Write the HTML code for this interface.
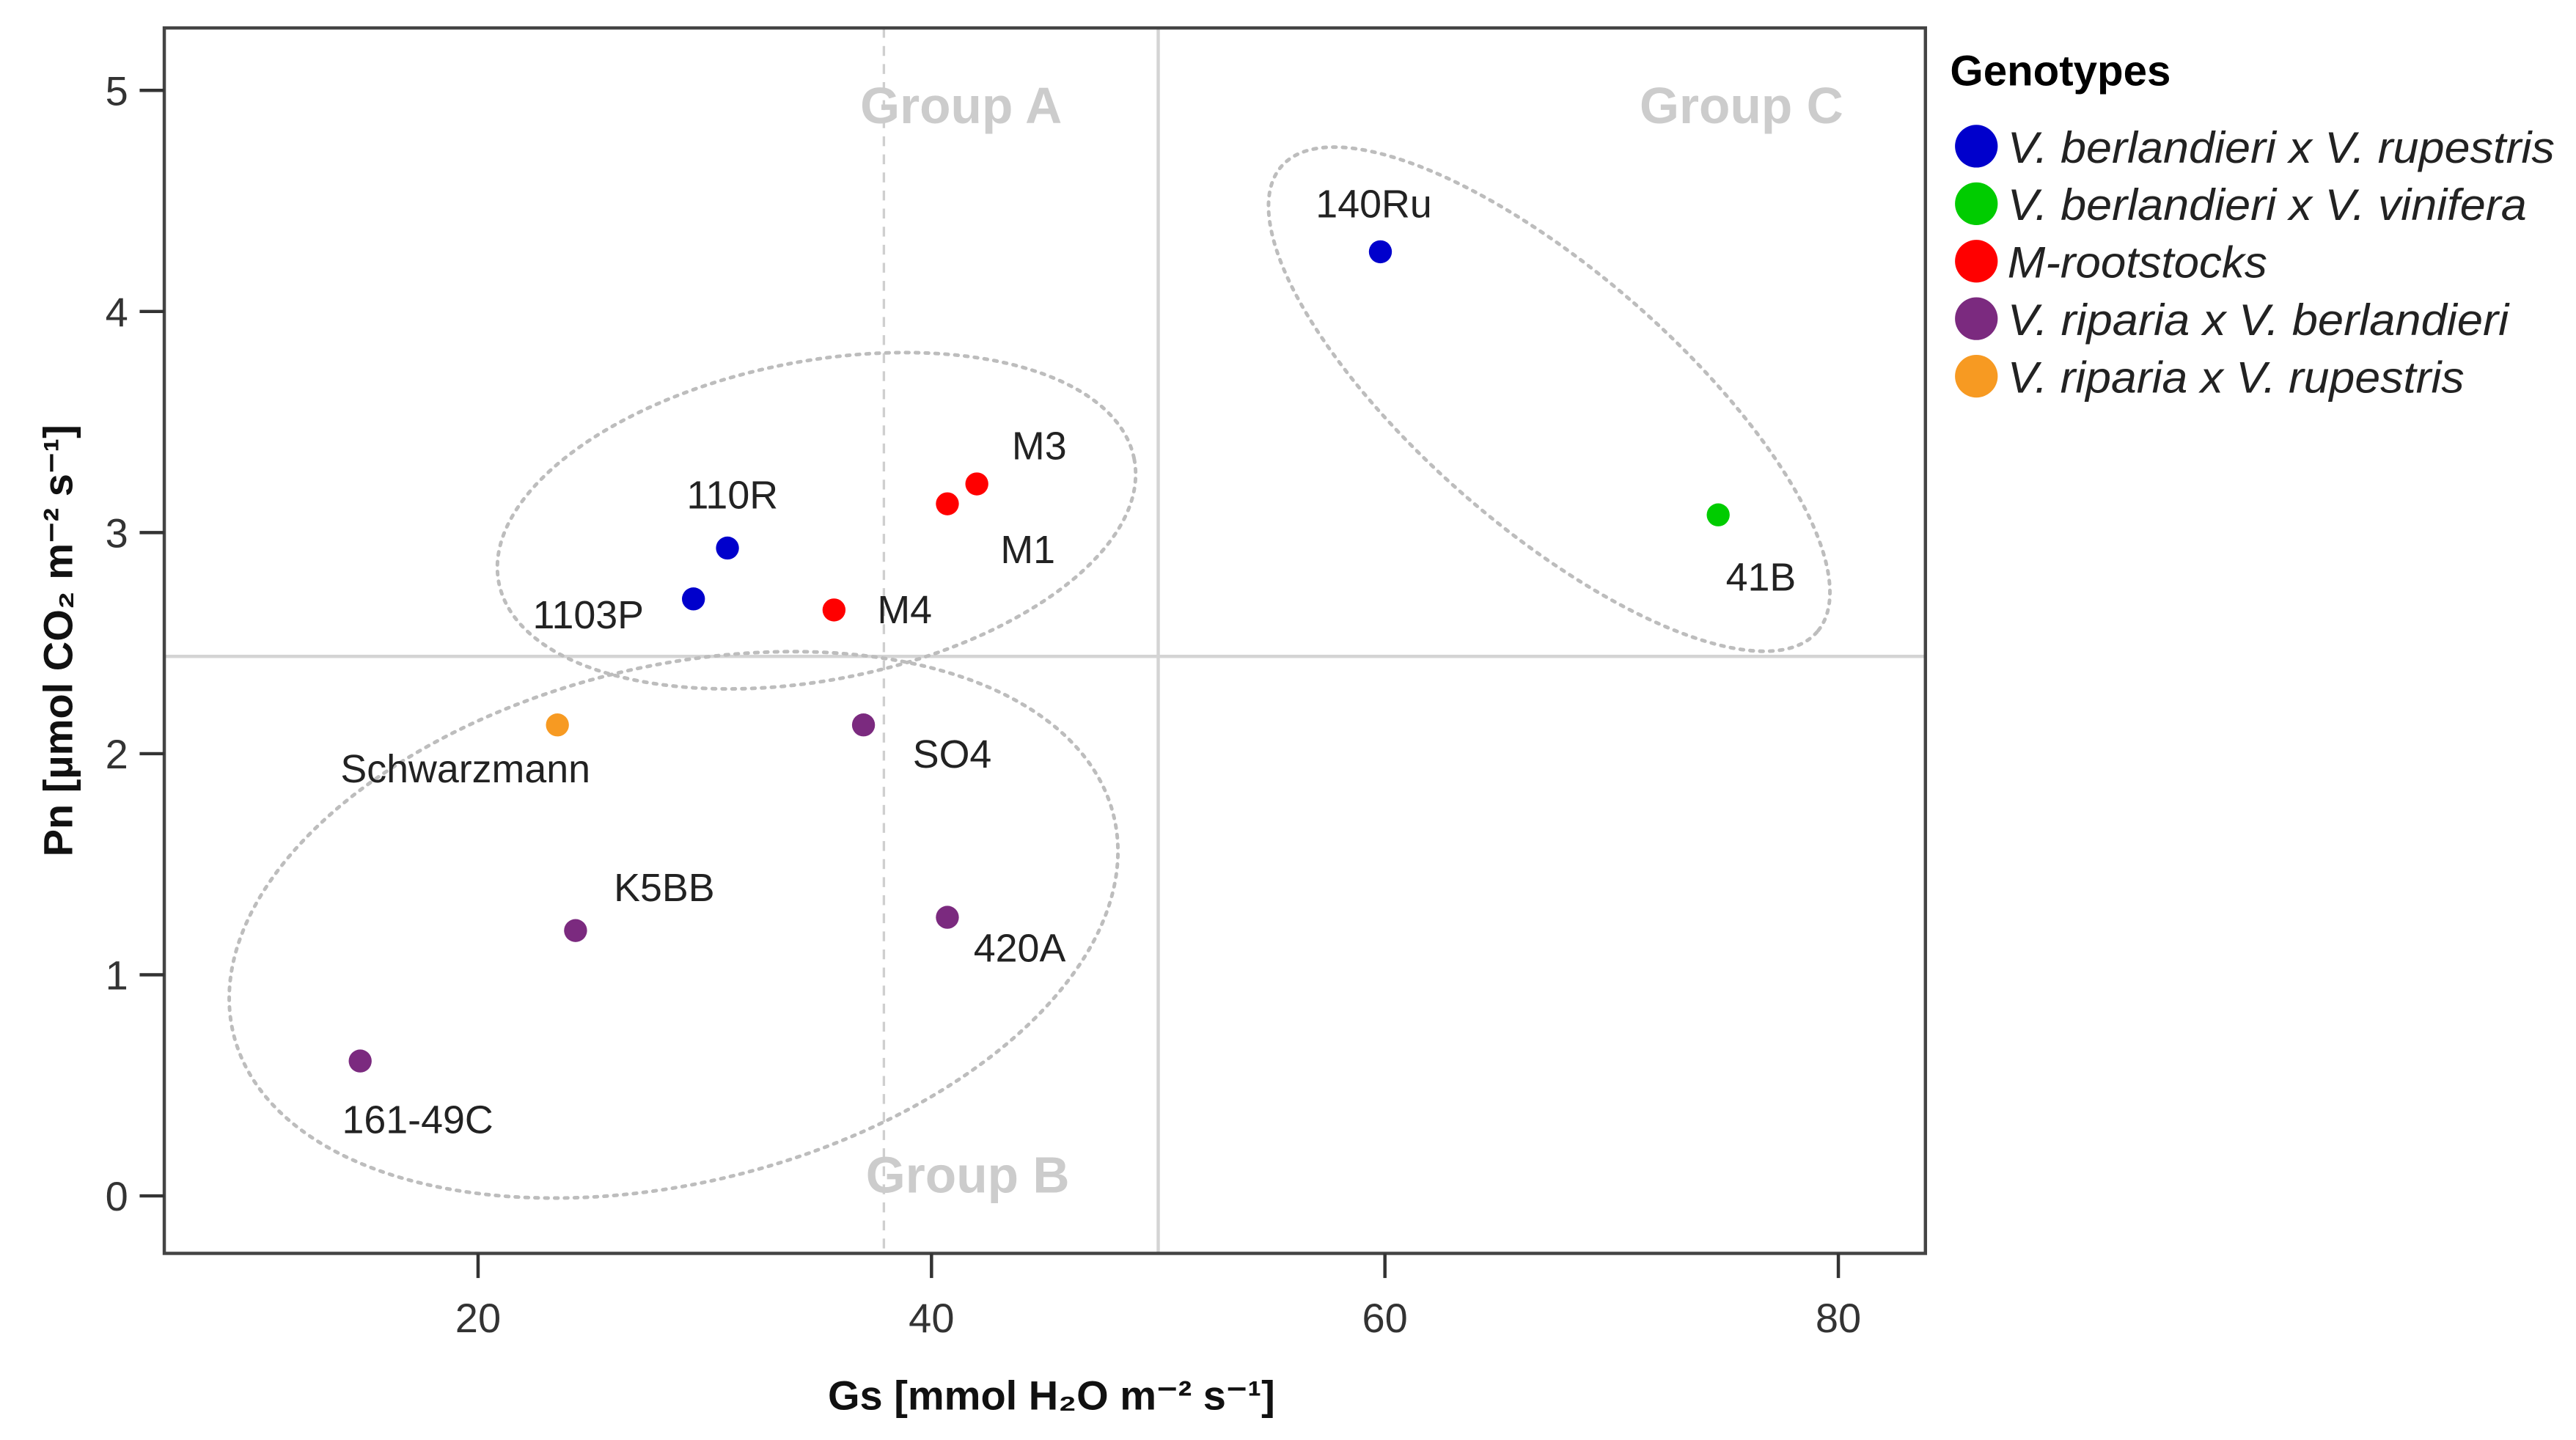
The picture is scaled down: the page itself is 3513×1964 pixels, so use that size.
<!DOCTYPE html>
<html><head><meta charset="utf-8"><style>
html,body{margin:0;padding:0;background:#fff}
svg{display:block}
text{font-family:"Liberation Sans",Arial,sans-serif}
</style></head><body>
<svg id="chart" width="3513" height="1964" viewBox="0 0 1568 876.6" xmlns="http://www.w3.org/2000/svg">
<rect width="1568" height="876.6" fill="#fff"/>
<g id="bg"></g>
<g id="marks"></g>
</svg>
<script>
const names = ["140Ru","41B","110R","1103P","M4","M1","M3","Schwarzmann","SO4","K5BB","420A","161-49C"];
const gsValues = [59.8,74.7,31.0,29.5,35.7,40.7,42.0,23.5,37.0,24.3,40.7,14.8];
const pnValues = [4.27,3.08,2.93,2.70,2.65,3.13,3.22,2.13,2.13,1.20,1.26,0.61];
const groupIdx = [0,1,0,0,2,2,2,4,3,3,3,3];
const genotypes = ["V. berlandieri x V. rupestris","V. berlandieri x V. vinifera","M-rootstocks","V. riparia x V. berlandieri","V. riparia x V. rupestris"];
const colors = ["#0000cc","#00cc00","#ff0000","#7b2a7f","#f79a22"];
const xTicks = [20,40,60,80];
const yTicks = [0,1,2,3,4,5];
const hLineValue = 2.44, vLineValue = 50, vDashValue = 37.9;

const NS="http://www.w3.org/2000/svg";
const L=100,R=1172,T=17,B=763;
const X=v=>291+(v-20)*13.8;
const Y=v=>728-v*134.6;
const bg=document.getElementById('bg'), mk=document.getElementById('marks');
function el(tag,attrs,parent,txt){const e=document.createElementNS(NS,tag);for(const k in attrs)e.setAttribute(k,attrs[k]);if(txt!==undefined)e.textContent=txt;parent.appendChild(e);return e;}

let e;
e=el('line',{x1:L,x2:R,y1:Y(hLineValue),y2:Y(hLineValue),stroke:'#d4d4d4','stroke-width':2},bg);


e=el('line',{x1:X(vLineValue),x2:X(vLineValue),y1:T,y2:B,stroke:'#d4d4d4','stroke-width':2},bg);


e=el('line',{x1:X(vDashValue),x2:X(vDashValue),y1:T,y2:B,stroke:'#cfcfcf','stroke-width':1.5,'stroke-dasharray':'6 5'},bg);



e=el('ellipse',{cx:497,cy:317,rx:197,ry:97,transform:'rotate(-11 497 317)',fill:'none',stroke:'#bdbdbd','stroke-width':2.2,'stroke-dasharray':'2 4','stroke-linecap':'round'},bg);


e=el('ellipse',{cx:410,cy:563,rx:276,ry:157,transform:'rotate(-14 410 563)',fill:'none',stroke:'#bdbdbd','stroke-width':2.2,'stroke-dasharray':'2 4','stroke-linecap':'round'},bg);


e=el('ellipse',{cx:943,cy:243,rx:216,ry:78,transform:'rotate(41 943 243)',fill:'none',stroke:'#bdbdbd','stroke-width':2.2,'stroke-dasharray':'2 4','stroke-linecap':'round'},bg);



[["Group A",585,75,'group-a-label'],["Group C",1060,75,'group-c-label'],["Group B",589,726,'group-b-label']].forEach(g=>{
  const t=el('text',{x:g[1],y:g[2],'text-anchor':'middle','font-size':31,'font-weight':'bold',fill:'#cccccc'},bg,g[0]);
  
  
});

e=el('rect',{x:L,y:T,width:R-L,height:B-T,fill:'none',stroke:'#444','stroke-width':2},bg);



xTicks.forEach(v=>{
  const tk=el('line',{x1:X(v),x2:X(v),y1:B,y2:B+15,stroke:'#333','stroke-width':2},bg);
  
  
  const t=el('text',{x:X(v),y:811,'text-anchor':'middle','font-size':25,fill:'#333'},bg,String(v));
  
  
});
yTicks.forEach(v=>{
  const tk=el('line',{x1:85,x2:L,y1:Y(v),y2:Y(v),stroke:'#333','stroke-width':2},bg);
  
  
  const t=el('text',{x:78,y:Y(v)+9,'text-anchor':'end','font-size':25,fill:'#333'},bg,String(v));
  
  
});

e=el('text',{x:640,y:858,'text-anchor':'middle','font-size':25,'font-weight':'bold',fill:'#111'},bg,'Gs [mmol H₂O m⁻² s⁻¹]');


e=el('text',{x:0,y:0,transform:'translate(44 390) rotate(-90)','text-anchor':'middle','font-size':25,'font-weight':'bold',fill:'#111'},bg,'Pn [µmol CO₂ m⁻² s⁻¹]');



const lblOff = {"140Ru":[-4,-29],"41B":[26,38],"110R":[3,-32],"1103P":[-64,10],"M4":[43,0],"M1":[49,28],"M3":[38,-23],"Schwarzmann":[-56,27],"SO4":[54,18],"K5BB":[54,-26],"420A":[44,19],"161-49C":[35,36]};
names.forEach((n,i)=>{
  const cx=X(gsValues[i]), cy=Y(pnValues[i]);
  const c=el('circle',{cx:cx,cy:cy,r:7,fill:colors[groupIdx[i]]},mk);
  
  
  const o=lblOff[n];
  const t=el('text',{x:cx+o[0],y:cy+o[1]+8,'text-anchor':'middle','font-size':24,fill:'#222'},mk,n);
  
  
});

e=el('text',{x:1187,y:52,'font-size':26,'font-weight':'bold',fill:'#000'},bg,'Genotypes');


const legW=[333,316,158,305,278];
genotypes.forEach((g,i)=>{
  const y=89+i*35;
  const c=el('circle',{cx:1203,cy:y,r:13,fill:colors[i]},bg);
  
  
  const t=el('text',{x:1222,y:y+10,'font-size':27,'font-style':'italic',fill:'#222',textLength:legW[i],lengthAdjust:'spacingAndGlyphs'},bg,g);
  
  
});
</script>
</body></html>
